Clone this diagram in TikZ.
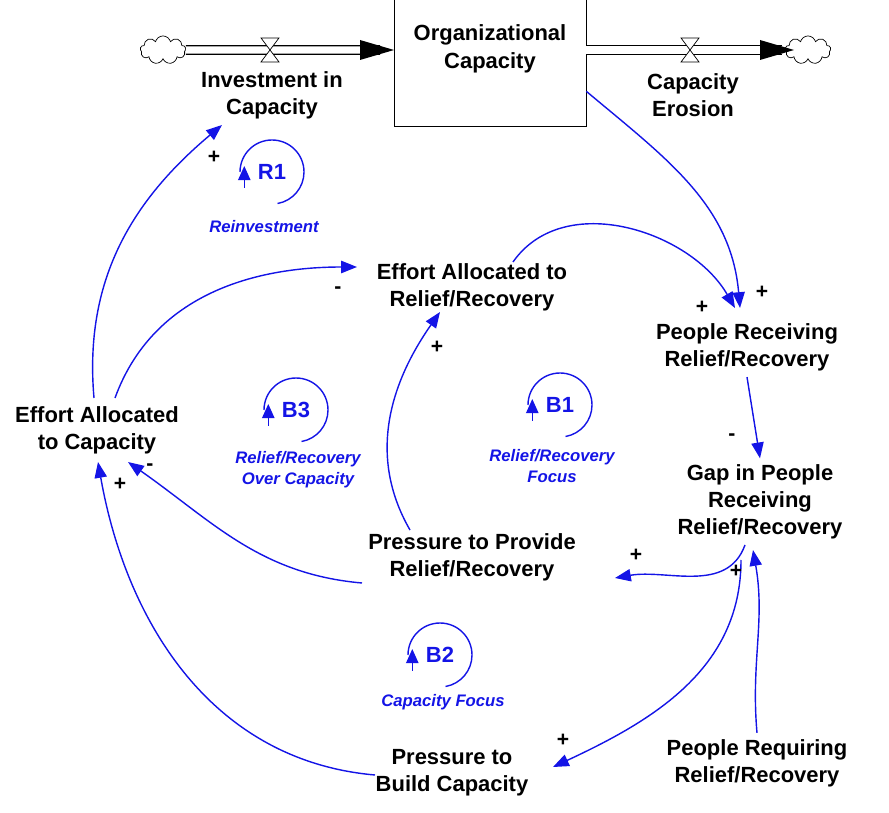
\documentclass[tikz,border=0pt]{standalone}
\usepackage{fontspec}
\setmainfont{Liberation Sans}
\usetikzlibrary{arrows.meta,shapes.symbols,calc}
\definecolor{lb}{RGB}{20,20,230}
\begin{document}
\begin{tikzpicture}[x=0.02cm,y=-0.02cm,
 var/.style={align=center,font=\fontsize{12.5}{15.5}\selectfont\bfseries},
 lnk/.style={draw=lb,line width=0.8pt,-{Triangle[length=9pt,width=7pt]}},
 pol/.style={font=\fontsize{12}{12}\selectfont\bfseries},
 lname/.style={text=lb,align=center,font=\fontsize{9.5}{12}\selectfont\bfseries\itshape},
 lsym/.style={text=lb,font=\fontsize{12.5}{14}\selectfont\bfseries},
 pipe/.style={draw,double,double distance=4pt,line width=0.8pt},
 cl/.style={cloud,draw,cloud puffs=9,minimum width=26,minimum height=16,inner sep=0pt}]
\useasboundingbox (0,0) rectangle (889,813);
% stock and flows
\node[draw,minimum width=192*0.02cm,minimum height=128*0.02cm,var] (box) at (490,62) {Organizational\\Capacity\\[2pt]};
\node[cl] (c1) at (163,50) {};
\node[cl] (c2) at (808,50) {};
\coordinate (v1) at (270,50); \coordinate (v2) at (690,50);
\draw[pipe] (c1.east) -- (380,50);
\fill (360,40) -- (394,50) -- (360,60) -- cycle;
\draw[pipe] (box.east|-0,50) -- (782,50);
\fill (760,40) -- (794,50) -- (760,60) -- cycle;
\foreach \v in {v1,v2}{
 \draw[fill=white] ($(\v)+(-9,-12)$) -- ($(\v)+(9,-12)$) -- ($(\v)+(-9,12)$) -- ($(\v)+(9,12)$) -- cycle;}
\node[var] (inv) at (272,95) {Investment in\\Capacity};
\node[var] (ero) at (693,95) {Capacity\\Erosion};
% variables
\node[var] (ear) at (472,287) {Effort Allocated to\\Relief/Recovery};
\node[var] (prr) at (747,347) {People Receiving\\Relief/Recovery};
\node[var] (gap) at (760,502) {Gap in People\\Receiving\\Relief/Recovery};
\node[var] (eac) at (97,430) {Effort Allocated\\to Capacity};
\node[var] (ppr) at (472,557) {Pressure to Provide\\Relief/Recovery};
\node[var] (pbc) at (452,773) {Pressure to\\Build Capacity};
\node[var] (req) at (757,763) {People Requiring\\Relief/Recovery};
% links
\draw[lnk] (box.south east) ++(0,-35) to[out=-40,in=95] (740,308);
\draw[lnk] (513,262) to[out=55,in=120] (735,308);
\draw[lnk] (prr.south) -- (gap.north);
\draw[lnk] (745,545) to[out=-110,in=10] (615,578);
\draw[lnk] (741,560) to[out=-90,in=25] (553,767);
\draw[lnk] (req.north) to[out=95,in=-80] (753,550);
\draw[lnk] (410,530) to[out=120,in=-125] (440,312);
\draw[lnk] (362,583) to[out=175,in=-35] (128,462);
\draw[lnk] (375,775) to[out=175,in=-80] (98,462);
\draw[lnk] (115,398) to[out=70,in=180] (357,267);
\draw[lnk] (94,398) to[out=95,in=-140] (222,125);
% polarities
\node[pol] at (762,292) {+};
\node[pol] at (702,307) {+};
\node[pol] at (732,437) {-};
\node[pol] at (636,555) {+};
\node[pol] at (563,740) {+};
\node[pol] at (736,571) {+};
\node[pol] at (437,347) {+};
\node[pol] at (150,467) {-};
\node[pol] at (120,484) {+};
\node[pol] at (338,290) {-};
\node[pol] at (214,157) {+};
% loop symbols
\foreach \n/\x/\y/\t in {r1/272/172/R1,b3/296/410/B3,b1/560/405/B1,b2/440/655/B2}{
 \node[lsym] (\n) at (\x,\y) {\t};
 \draw[lb,line width=0.8pt] (\x,\y) ++(-180:32) arc[start angle=-180,end angle=80,radius=32];
 \draw[lb,line width=0.8pt,-{Triangle[length=8pt,width=7pt]}] (\x,\y) ++(150:32) -- ++(0,-22);
}
\node[lname] (ln1) at (264,227) {Reinvestment};
\node[lname] (ln3) at (298,470) {Relief/Recovery\\Over Capacity};
\node[lname] (ln2) at (552,466) {Relief/Recovery\\Focus};
\node[lname] (ln4) at (443,702) {Capacity Focus};
\end{tikzpicture}
\end{document}
